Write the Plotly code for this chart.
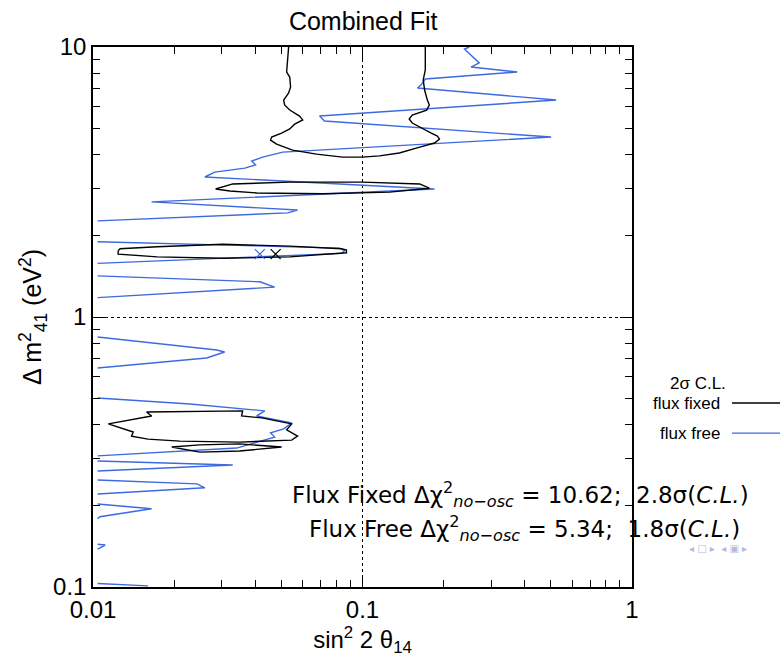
import plotly.graph_objects as go

# ---- Data ----
# Flux free 2-sigma contour (blue), segments separated by None
free_x = [0.249, 0.239, 0.271, 0.253, 0.375, 0.171, 0.165, 0.160, 0.523, 0.0693, 0.0723, 0.501,
          0.0506, 0.0426, 0.0388, 0.0401, 0.0366, 0.0283, 0.0260, 0.185, 0.0165, 0.0574, 0.0527, 0.0104, None,
          0.0104, 0.0822, 0.0858, 0.0836, 0.0104, None,
          0.0104, 0.0416, 0.0472, 0.0416, 0.0104, None,
          0.0104, 0.0288, 0.0308, 0.0264, 0.0104, None,
          0.0104, 0.0229, 0.0434, 0.0405, 0.0546, 0.0510, 0.0456, 0.0472, 0.0341, 0.0104, None,
          0.0104, 0.0330, 0.0104, None,
          0.0104, 0.0243, 0.0260, 0.0104, None,
          0.0104, 0.0165, 0.0106, 0.0104, None,
          0.0104, 0.0111, 0.0104, None,
          0.0104, 0.0160]
free_y = [10.0, 9.83, 8.73, 8.43, 8.08, 7.61, 7.24, 7.05, 6.36, 5.55, 5.32, 4.64,
          4.08, 3.91, 3.78, 3.66, 3.56, 3.44, 3.30, 2.98, 2.67, 2.49, 2.43, 2.27, None,
          1.90, 1.80, 1.76, 1.72, 1.58, None,
          1.42, 1.35, 1.29, 1.28, 1.18, None,
          0.843, 0.755, 0.742, 0.705, 0.647, None,
          0.501, 0.476, 0.449, 0.430, 0.405, 0.385, 0.372, 0.359, 0.327, 0.306, None,
          0.293, 0.283, 0.269, None,
          0.249, 0.241, 0.233, 0.221, None,
          0.203, 0.195, 0.182, 0.179, None,
          0.144, 0.143, 0.138, None,
          0.103, 0.101]

# Flux fixed 2-sigma contour (black)
fixed_x = [0.0532, 0.0527, 0.0523, 0.0537, 0.0541, 0.0532, 0.0510, 0.0514, 0.0537, 0.0584, 0.0600,
           0.0560, 0.0537, 0.0501, 0.0460, 0.0456, 0.0480, 0.0550, 0.0675, 0.0843, 0.100, 0.1156,
           0.137, 0.163, 0.185, 0.193, 0.1896, 0.180, 0.167, 0.153, 0.149, 0.153, 0.173, 0.177,
           0.174, 0.170, 0.168, 0.171, 0.171, None,
           0.0285, 0.0330, 0.0537, 0.100, 0.163, 0.177, 0.126, 0.0711, 0.0405, 0.0322, 0.0285, None,
           0.0124, 0.0126, 0.0173, 0.0303, 0.0537, 0.0836, 0.0872, 0.0872, 0.0537, 0.0303, 0.0173,
           0.0124, 0.0124, None,
           0.0158, 0.0359, 0.0356, 0.0423, 0.0546, 0.0523, 0.0574, 0.0546, 0.0350, 0.0210, 0.0160,
           0.0139, 0.0141, 0.0114, 0.0165, 0.0158, None,
           0.0196, 0.0249, 0.0350, 0.0501, 0.0350, 0.0249, 0.0196]
fixed_y = [10.0, 9.11, 8.08, 7.74, 7.11, 6.76, 6.36, 6.10, 5.84, 5.55, 5.37,
           5.18, 4.97, 4.80, 4.64, 4.52, 4.37, 4.15, 4.01, 3.91, 3.91, 3.95,
           4.05, 4.26, 4.41, 4.56, 4.68, 4.80, 5.01, 5.23, 5.41, 5.60, 5.84, 6.10,
           6.36, 6.93, 7.55, 8.22, 10.0, None,
           2.98, 3.11, 3.16, 3.16, 3.11, 3.00, 2.90, 2.86, 2.88, 2.93, 2.98, None,
           1.76, 1.79, 1.82, 1.86, 1.83, 1.79, 1.77, 1.73, 1.67, 1.65, 1.67,
           1.71, 1.76, None,
           0.445, 0.449, 0.430, 0.423, 0.402, 0.382, 0.362, 0.350, 0.344, 0.347, 0.353,
           0.362, 0.375, 0.402, 0.430, 0.445, None,
           0.330, 0.336, 0.339, 0.330, 0.319, 0.316, 0.330]

# Best-fit points
bf_free = (0.0416, 1.71)
bf_fixed = (0.0476, 1.71)

x_tickvals = [0.01, 0.1, 1]
x_ticktext = ["0.01", "0.1", "1"]
y_tickvals = [0.1, 1, 10]
y_ticktext = ["0.1", "1", "10"]
x_minor = [k * 0.01 for k in range(2, 10)] + [k * 0.1 for k in range(2, 10)]
y_minor = [k * 0.1 for k in range(2, 10)] + [k * 1.0 for k in range(2, 10)]

BLUE = "#3d6ae0"
FONT = "Liberation Sans"

fig = go.Figure()
fig.add_trace(go.Scatter(x=free_x, y=free_y, mode="lines", line=dict(color=BLUE, width=1.4),
                         connectgaps=False, showlegend=False, name="flux free"))
fig.add_trace(go.Scatter(x=fixed_x, y=fixed_y, mode="lines", line=dict(color="black", width=1.4),
                         connectgaps=False, showlegend=False, name="flux fixed"))
fig.add_trace(go.Scatter(x=[bf_free[0]], y=[bf_free[1]], mode="markers",
                         marker=dict(symbol="x-thin-open", size=10, color=BLUE,
                                     line=dict(color=BLUE, width=1.2)),
                         showlegend=False))
fig.add_trace(go.Scatter(x=[bf_fixed[0]], y=[bf_fixed[1]], mode="markers",
                         marker=dict(symbol="x-thin-open", size=10, color="black",
                                     line=dict(color="black", width=1.2)),
                         showlegend=False))

axis_common = dict(
    type="log", showline=True, linecolor="black", linewidth=1.5, mirror="allticks",
    ticks="inside", ticklen=12, tickwidth=1.3, tickcolor="black",
    showgrid=True, gridcolor="black", griddash="dot", gridwidth=1,
    zeroline=False, tickfont=dict(family=FONT, size=24, color="black"),
)

fig.update_xaxes(**axis_common, range=[-2, 0], tickmode="array", tickvals=x_tickvals, ticktext=x_ticktext,
                 minor=dict(ticks="inside", ticklen=7, tickcolor="black", tickvals=x_minor, showgrid=False),
                 title=dict(text="sin<sup>2</sup> 2 θ<sub>14</sub>", font=dict(family=FONT, size=24), standoff=2))
fig.update_yaxes(**axis_common, range=[-1, 1], tickmode="array", tickvals=y_tickvals, ticktext=y_ticktext,
                 minor=dict(ticks="inside", ticklen=7, tickcolor="black", tickvals=y_minor, showgrid=False),
                 title=dict(text="Δ m<sup>2</sup><sub>41</sub> (eV<sup>2</sup>)", font=dict(family=FONT, size=25),
                            standoff=4))

anns = [
    dict(text="2σ C.L.", x=1.122, y=0.376, xanchor="center", yanchor="middle", font=dict(size=17)),
    dict(text="flux fixed", x=1.167, y=0.3407, xanchor="right", yanchor="middle", font=dict(size=17)),
    dict(text="flux free", x=1.167, y=0.285, xanchor="right", yanchor="middle", font=dict(size=17)),
    dict(text="Flux Fixed Δχ<sup>2</sup><sub><i>no−osc</i></sub> = 10.62;  2.8σ(<i>C.L.</i>)",
         x=0.794, y=0.172, xanchor="center", yanchor="middle", font=dict(size=23, family="DejaVu Sans")),
    dict(text="Flux Free Δχ<sup>2</sup><sub><i>no−osc</i></sub> = 5.34;  1.8σ(<i>C.L.</i>)",
         x=0.80, y=0.109, xanchor="center", yanchor="middle", font=dict(size=23, family="DejaVu Sans")),
    dict(text="◂ □ ▸  ◂ ▣ ▸", x=1.16, y=0.072, xanchor="center", yanchor="middle",
         font=dict(size=10, color="#b4b8e0", family="DejaVu Sans")),
]
for a in anns:
    a.update(xref="paper", yref="paper", showarrow=False)
    a.setdefault("font", {})
    a["font"].setdefault("family", FONT)
    a["font"].setdefault("color", "black")
    fig.add_annotation(**a)

fig.add_shape(type="line", xref="paper", yref="paper", x0=1.1855, x1=1.2746, y0=0.3407, y1=0.3407,
              line=dict(color="black", width=1.3))
fig.add_shape(type="line", xref="paper", yref="paper", x0=1.1855, x1=1.2746, y0=0.285, y1=0.285,
              line=dict(color=BLUE, width=1.3))

fig.update_layout(
    width=782, height=658,
    margin=dict(l=93, r=150, t=47, b=71),
    paper_bgcolor="white", plot_bgcolor="white",
    title=dict(text="Combined Fit", x=0.4645, xanchor="center", y=0.968, yanchor="middle",
               font=dict(family=FONT, size=25, color="black")),
    font=dict(family=FONT, color="black"),
)

fig.write_html("out.html")
